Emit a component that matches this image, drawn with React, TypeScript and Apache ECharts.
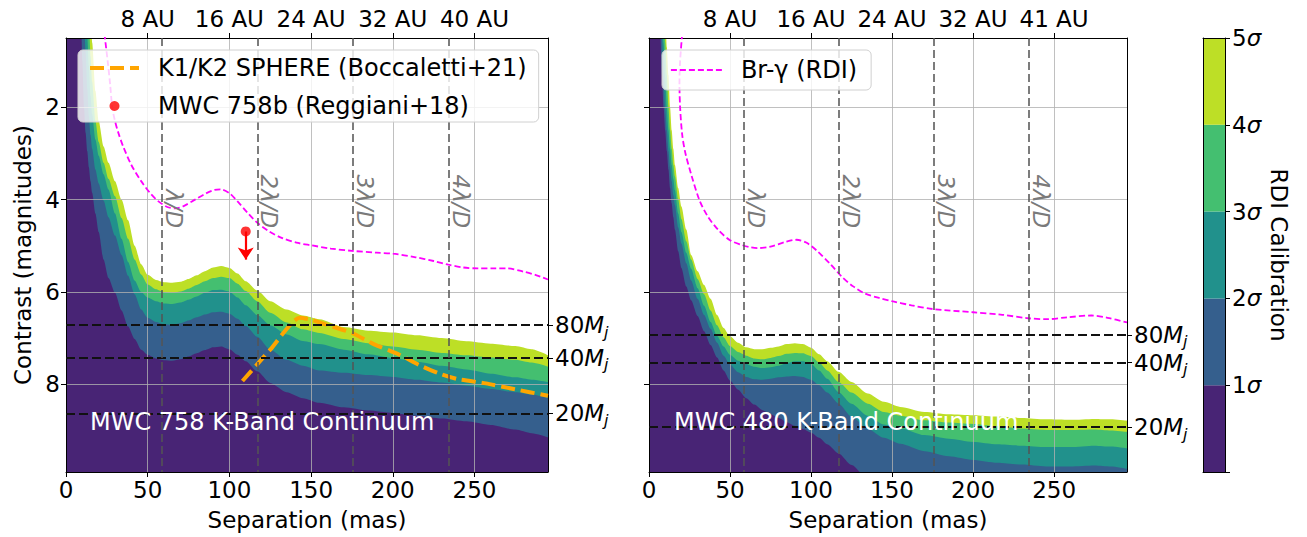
import React, { useEffect, useRef } from 'react';
import * as echarts from 'echarts';

const FONT = 'DejaVu Sans';

// Separation grid (mas) shared by all contour boundaries
const SEP = [0, 5, 7, 8, 9, 10, 11, 12, 13, 14, 15, 16, 18, 20, 23, 26, 30, 34, 38, 42, 46, 50, 55, 60, 65, 70, 75, 80, 85, 90, 95, 100, 105, 110, 117, 125, 135, 145, 155, 170, 185, 200, 215, 230, 245, 260, 275, 285, 295];

// MWC 758 contour boundaries (contrast, mag) for 1..5 sigma
const MWC758_1S = [-4, -4, -4, -1.5, -0.2, 1.0, 2.0, 2.55, 2.95, 3.3, 3.6, 3.85, 4.3, 4.7, 5.3, 5.7, 6.02, 6.4, 6.75, 7.02, 7.25, 7.36, 7.44, 7.48, 7.49, 7.46, 7.4, 7.33, 7.26, 7.2, 7.18, 7.24, 7.36, 7.5, 7.72, 7.97, 8.17, 8.3, 8.4, 8.5, 8.57, 8.62, 8.68, 8.74, 8.8, 8.88, 8.98, 9.06, 9.15];
const MWC758_2S = [-4, -4, -4, -4, -3, -0.8, 0.1, 0.8, 1.6, 2.2, 2.6, 2.9, 3.35, 3.65, 4.02, 4.38, 4.78, 5.2, 5.65, 6.05, 6.38, 6.56, 6.65, 6.7, 6.71, 6.68, 6.62, 6.55, 6.49, 6.44, 6.43, 6.47, 6.58, 6.74, 6.97, 7.25, 7.47, 7.6, 7.7, 7.75, 7.8, 7.84, 7.9, 7.96, 8.03, 8.1, 8.17, 8.22, 8.3];
const MWC758_3S = [-4, -4, -4, -4, -4, -4, -3, -0.3, 0.45, 1.1, 1.75, 2.15, 2.7, 3.05, 3.45, 3.78, 4.3, 4.85, 5.35, 5.75, 6.0, 6.12, 6.2, 6.25, 6.26, 6.23, 6.17, 6.1, 6.02, 5.96, 5.95, 5.99, 6.12, 6.29, 6.5, 6.72, 6.92, 7.06, 7.13, 7.25, 7.35, 7.43, 7.51, 7.6, 7.68, 7.77, 7.85, 7.9, 7.95];
const MWC758_4S = [-4, -4, -4, -4, -4, -4, -4, -4, -1.2, 0.1, 0.9, 1.45, 2.3, 2.75, 3.2, 3.55, 3.93, 4.4, 4.85, 5.3, 5.62, 5.84, 5.94, 6.0, 6.02, 5.99, 5.93, 5.85, 5.77, 5.7, 5.67, 5.7, 5.82, 5.98, 6.2, 6.45, 6.66, 6.81, 6.89, 7.02, 7.11, 7.18, 7.25, 7.32, 7.37, 7.42, 7.47, 7.53, 7.62];
const MWC758_5S = [-4, -4, -4, -4, -4, -4, -4, -4, -4, -1.2, -0.2, 0.6, 1.65, 2.3, 2.85, 3.2, 3.6, 4.0, 4.45, 5.0, 5.4, 5.63, 5.74, 5.79, 5.8, 5.78, 5.72, 5.64, 5.55, 5.47, 5.44, 5.48, 5.6, 5.77, 5.97, 6.2, 6.38, 6.51, 6.59, 6.76, 6.84, 6.88, 6.94, 7.0, 7.07, 7.12, 7.17, 7.24, 7.37];

// MWC 480 contour boundaries
const MWC480_1S = [-4, -4, 0.45, 1.3, 2.0, 2.5, 2.95, 3.35, 3.75, 4.08, 4.38, 4.65, 5.12, 5.48, 5.88, 6.18, 6.52, 6.85, 7.15, 7.42, 7.7, 7.92, 8.12, 8.3, 8.44, 8.56, 8.65, 8.73, 8.82, 8.9, 8.97, 9.05, 9.16, 9.3, 9.5, 9.75, 10.05, 10.35, 10.6, 10.9, 11.1, 11.2, 11.3, 11.3, 11.3, 11.3, 11.3, 11.3, 11.3];
const MWC480_2S = [-4, -4, -0.5, 0.5, 1.4, 2.05, 2.5, 2.95, 3.3, 3.6, 3.9, 4.12, 4.6, 4.95, 5.38, 5.75, 6.15, 6.5, 6.8, 7.1, 7.38, 7.57, 7.74, 7.84, 7.89, 7.9, 7.88, 7.85, 7.83, 7.82, 7.84, 7.9, 8.02, 8.18, 8.42, 8.7, 8.97, 9.16, 9.29, 9.45, 9.56, 9.64, 9.7, 9.74, 9.78, 9.78, 9.76, 9.78, 9.83];
const MWC480_3S = [-4, -4, -2, -0.2, 0.6, 1.35, 2.0, 2.5, 2.9, 3.25, 3.55, 3.8, 4.3, 4.7, 5.15, 5.5, 5.92, 6.3, 6.65, 6.95, 7.18, 7.36, 7.49, 7.56, 7.62, 7.65, 7.63, 7.6, 7.54, 7.5, 7.5, 7.56, 7.7, 7.88, 8.17, 8.42, 8.68, 8.87, 8.95, 9.1, 9.18, 9.25, 9.3, 9.33, 9.36, 9.36, 9.33, 9.35, 9.39];
const MWC480_4S = [-4, -4, -4, -1.2, -0.2, 0.6, 1.3, 2.0, 2.5, 2.9, 3.25, 3.5, 4.0, 4.42, 4.9, 5.3, 5.72, 6.05, 6.4, 6.72, 6.98, 7.17, 7.3, 7.38, 7.44, 7.46, 7.43, 7.39, 7.34, 7.32, 7.33, 7.39, 7.53, 7.7, 7.95, 8.18, 8.42, 8.6, 8.68, 8.78, 8.83, 8.86, 8.91, 8.96, 8.99, 8.99, 8.98, 9.0, 9.03];
const MWC480_5S = [-4, -4, -4, -2, -0.8, 0.0, 0.7, 1.3, 2.0, 2.5, 2.9, 3.25, 3.75, 4.15, 4.65, 5.2, 5.55, 5.85, 6.15, 6.5, 6.78, 6.96, 7.1, 7.2, 7.24, 7.24, 7.21, 7.18, 7.13, 7.11, 7.13, 7.21, 7.35, 7.5, 7.73, 7.95, 8.2, 8.38, 8.49, 8.6, 8.65, 8.67, 8.7, 8.73, 8.76, 8.77, 8.75, 8.76, 8.79];

// Br-gamma RDI curves
const BRG758_SEP = [23.5, 25.5, 27, 28.3, 30, 32, 35, 40, 46, 52, 57, 62, 67, 72, 79, 86, 91, 95, 100, 105, 111, 117, 124, 132, 142, 150, 162, 175, 190, 200, 214, 225, 234, 243, 252, 262, 270, 280, 288, 295];
const BRG758_MAG = [0.4, 1.0, 1.5, 2.0, 2.3, 2.55, 2.85, 3.25, 3.6, 3.88, 4.05, 4.16, 4.19, 4.14, 4.0, 3.86, 3.79, 3.78, 3.86, 4.04, 4.28, 4.5, 4.68, 4.83, 4.94, 4.99, 5.06, 5.11, 5.15, 5.17, 5.25, 5.33, 5.41, 5.47, 5.49, 5.49, 5.49, 5.56, 5.64, 5.73];
const BRG480_SEP = [20.5, 19.2, 18.8, 19.2, 20.5, 22.5, 26, 31, 36, 42.8, 50, 57, 62, 67, 75, 84, 91, 97, 104, 112, 119, 126, 133, 142, 150, 162, 175, 200, 217, 234, 246, 258, 273, 283, 295];
const BRG480_MAG = [0.4, 1.0, 1.5, 2.0, 2.6, 3.0, 3.45, 4.0, 4.35, 4.66, 4.88, 4.98, 5.03, 5.05, 5.02, 4.92, 4.87, 4.93, 5.12, 5.4, 5.67, 5.88, 6.03, 6.13, 6.2, 6.29, 6.37, 6.44, 6.49, 6.57, 6.59, 6.55, 6.51, 6.56, 6.66];

// SPHERE K1/K2 curve (Boccaletti+21)
const SPHERE_SEP = [108, 125, 143, 150, 163, 175, 189, 204, 216, 228, 240, 257, 275, 295];
const SPHERE_MAG = [7.93, 7.25, 6.56, 6.6, 6.75, 6.89, 7.14, 7.36, 7.58, 7.76, 7.89, 7.98, 8.11, 8.25];

// MWC 758b (Reggiani+18): point and upper-limit arrow end
const MWC758B = [110, 4.69];
const MWC758B_LIMIT = 5.3;

// Mass limits
const MASS_LABELS = ['80', '40', '20'];
const MWC758_MASS = [6.72, 7.43, 8.63];
const MWC480_MASS = [6.93, 7.53, 8.93];

// lambda/D positions
const LAMBDA_D = [58.6, 117.2, 175.8, 234.4];
const LAMBDA_LABELS = ['λ/D', '2λ/D', '3λ/D', '4λ/D'];
const LAMBDA_LABEL_MAG = 4.62;

// Axes ticks
const X_TICKS = [0, 50, 100, 150, 200, 250];
const Y_TICKS = [2, 4, 6, 8];
const AU_TICKS = [50, 100, 150, 200, 250];
const AU_758 = ['8 AU', '16 AU', '24 AU', '32 AU', '40 AU'];
const AU_480 = ['8 AU', '16 AU', '24 AU', '32 AU', '41 AU'];

// Colorbar
const SIGMA_LEVELS = [0, 1, 2, 3, 4, 5];
const VIRIDIS = ['#482475', '#355f8d', '#21918c', '#44bf70', '#bddf26'];

const X_MIN = 0, X_MAX = 295, Y_MIN = 0.5, Y_MAX = 9.9;

const pairs = (xs: number[], ys: number[]) => xs.map((x, i) => [x, ys[i]]);

const txt = { fontFamily: FONT, fontSize: 23, color: '#000' };
const axisLineBlack = { show: true, onZero: false, lineStyle: { color: '#000', width: 1 } };
const tick = (vals: number[] | null) => ({ show: true, length: 5, inside: false, lineStyle: { color: '#000', width: 1 }, ...(vals ? { customValues: vals } : {}) });
const gridLine = { show: true, lineStyle: { color: 'rgba(176,176,176,0.8)', width: 1 } };
const noSymbol = { color: 'rgba(0,0,0,0)', borderColor: 'rgba(0,0,0,0)', borderWidth: 0, opacity: 0 };

const SPHERE_STYLE = { color: '#ffa500', width: 4, type: [14, 6] };
const BRG_STYLE = { color: '#ff00ff', width: 1.8, type: [6, 3] };

function contourSeries(curves: number[][], xi: number, yi: number) {
  const out: any[] = [];
  for (let k = curves.length - 1; k >= 0; k--) {
    out.push({
      type: 'line', xAxisIndex: xi, yAxisIndex: yi, data: pairs(SEP, curves[k]),
      symbol: 'none', smooth: 0.25, smoothMonotone: 'x', silent: true, z: 1, clip: true,
      lineStyle: { width: 0 }, areaStyle: { color: VIRIDIS[k], opacity: 1, origin: 'end' },
    });
  }
  return out;
}

const massRich = {
  n: { fontFamily: FONT, fontSize: 23, color: '#000', lineHeight: 30 },
  m: { fontFamily: FONT, fontSize: 23, color: '#000', fontStyle: 'italic', lineHeight: 30 },
  j: { fontFamily: FONT, fontSize: 16, color: '#000', fontStyle: 'italic', lineHeight: 30, verticalAlign: 'bottom' },
};
const massFmt = (masses: number[]) => (v: number) => {
  const i = masses.findIndex((m) => Math.abs(m - v) < 1e-6);
  return i < 0 ? '' : `{n|${MASS_LABELS[i]}}{m|M}{j|j}`;
};

function markLines(masses: number[]) {
  return {
    silent: true, symbol: ['none', 'none'], label: { show: false },
    data: [
      ...masses.map((m) => ({ yAxis: m, lineStyle: { color: '#111', width: 2, type: [9, 4] } })),
      ...LAMBDA_D.map((l) => ({ xAxis: l, lineStyle: { color: 'rgba(85,85,85,0.85)', width: 1.8, type: [8, 4] } })),
    ],
  };
}

function panelAxes(gridIndex: number, au: string[], showY: boolean, masses: number[]) {
  const xBottom = {
    type: 'value', gridIndex, position: 'bottom', min: X_MIN, max: X_MAX, z: 2,
    axisLine: axisLineBlack, axisTick: tick(X_TICKS), splitLine: gridLine,
    axisLabel: { ...txt, margin: 6, customValues: X_TICKS, formatter: (v: number) => String(v) },
    name: 'Separation (mas)', nameLocation: 'middle', nameGap: 36, nameTextStyle: txt,
  };
  const xTop = {
    type: 'value', gridIndex, position: 'top', min: X_MIN, max: X_MAX, z: 2,
    axisLine: axisLineBlack, axisTick: tick(AU_TICKS), splitLine: { show: false },
    axisLabel: { ...txt, margin: 8, customValues: AU_TICKS, formatter: (v: number) => au[AU_TICKS.indexOf(v)] ?? '' },
  };
  const yLeft: any = {
    type: 'value', gridIndex, position: 'left', min: Y_MIN, max: Y_MAX, inverse: true, z: 2,
    axisLine: axisLineBlack, axisTick: tick(Y_TICKS), splitLine: gridLine,
    axisLabel: { ...txt, show: showY, margin: 6, customValues: Y_TICKS, formatter: (v: number) => String(v) },
  };
  if (showY) {
    Object.assign(yLeft, { name: 'Contrast (magnitudes)', nameLocation: 'middle', nameGap: 32, nameRotate: 90, nameTextStyle: txt });
  }
  const yRight = {
    type: 'value', gridIndex, position: 'right', min: Y_MIN, max: Y_MAX, inverse: true, z: 2,
    axisLine: axisLineBlack, axisTick: tick(masses), splitLine: { show: false },
    axisLabel: { ...txt, margin: 7, customValues: masses, formatter: massFmt(masses), rich: massRich },
  };
  return { x: [xBottom, xTop], y: [yLeft, yRight] };
}

const left = panelAxes(0, AU_758, true, MWC758_MASS);
const right = panelAxes(1, AU_480, false, MWC480_MASS);

const legendBox = {
  orient: 'vertical', selectedMode: false, z: 6,
  backgroundColor: 'rgba(255,255,255,0.8)', borderColor: '#d0d0d0', borderWidth: 1, borderRadius: 5,
  textStyle: { fontFamily: FONT, fontSize: 24, color: '#000', lineHeight: 28, padding: [0, 0, 0, 14] },
};

const option: any = {
  animation: false,
  backgroundColor: '#fff',
  textStyle: { fontFamily: FONT },
  grid: [
    { left: 66, top: 38, width: 482, height: 434 },
    { left: 649, top: 38, width: 478, height: 434 },
    { left: 1203, top: 38, width: 22, height: 434 },
  ],
  xAxis: [
    ...left.x, ...right.x,
    { type: 'category', gridIndex: 2, position: 'bottom', data: ['σ'], z: 2, axisLine: axisLineBlack, axisTick: { show: false }, axisLabel: { show: false }, splitLine: { show: false } },
    { type: 'category', gridIndex: 2, position: 'top', data: ['σ'], z: 2, axisLine: axisLineBlack, axisTick: { show: false }, axisLabel: { show: false }, splitLine: { show: false } },
  ],
  yAxis: [
    ...left.y, ...right.y,
    {
      type: 'value', gridIndex: 2, position: 'right', min: 0, max: 5, interval: 1, z: 2,
      axisLine: axisLineBlack, axisTick: tick(null), splitLine: { show: false },
      axisLabel: {
        ...txt, margin: 7,
        formatter: (v: number) => (v === 0 ? '' : `{n|${v}}{s|σ}`),
        rich: {
          n: { fontFamily: FONT, fontSize: 23, color: '#000' },
          s: { fontFamily: FONT, fontSize: 23, color: '#000', fontStyle: 'italic' },
        },
      },
      name: 'RDI Calibration', nameLocation: 'middle', nameGap: 42, nameRotate: -90, nameTextStyle: txt,
    },
    { type: 'value', gridIndex: 2, position: 'left', min: 0, max: 5, z: 2, axisLine: axisLineBlack, axisTick: { show: false }, axisLabel: { show: false }, splitLine: { show: false } },
  ],
  legend: [
    {
      ...legendBox,
      data: [
        { name: 'K1/K2 SPHERE (Boccaletti+21)', itemStyle: noSymbol, lineStyle: SPHERE_STYLE },
        { name: 'MWC 758b (Reggiani+18)', icon: 'circle' },
      ],
      left: 78, top: 50, itemWidth: 49, itemHeight: 10, itemGap: 10, padding: [4, 12, 2, 10],
    },
    {
      ...legendBox,
      data: [{ name: 'Br-γ (RDI)', itemStyle: noSymbol, lineStyle: BRG_STYLE }],
      left: 662, top: 50, itemWidth: 51, itemHeight: 10, padding: [6, 14, 6, 8],
    },
  ],
  title: [
    { text: 'MWC 758 K-Band Continuum', left: 90, top: 408, padding: 0, textStyle: { color: '#fff', fontSize: 24, fontWeight: 'normal', fontFamily: FONT, lineHeight: 28 } },
    { text: 'MWC 480 K-Band Continuum', left: 674, top: 408, padding: 0, textStyle: { color: '#fff', fontSize: 24, fontWeight: 'normal', fontFamily: FONT, lineHeight: 28 } },
  ],
  series: [
    ...contourSeries([MWC758_1S, MWC758_2S, MWC758_3S, MWC758_4S, MWC758_5S], 0, 0),
    ...contourSeries([MWC480_1S, MWC480_2S, MWC480_3S, MWC480_4S, MWC480_5S], 2, 2),
    {
      name: 'Br-γ (RDI)', type: 'line', xAxisIndex: 0, yAxisIndex: 0, data: pairs(BRG758_SEP, BRG758_MAG),
      symbol: 'none', smooth: 0.3, z: 3, silent: true,
      lineStyle: BRG_STYLE,
      markLine: markLines(MWC758_MASS),
    },
    {
      name: 'K1/K2 SPHERE (Boccaletti+21)', type: 'line', xAxisIndex: 0, yAxisIndex: 0, data: pairs(SPHERE_SEP, SPHERE_MAG),
      symbol: 'none', smooth: 0.2, z: 4, silent: true,
      lineStyle: SPHERE_STYLE,
    },
    {
      name: 'MWC 758b (Reggiani+18)', type: 'scatter', xAxisIndex: 0, yAxisIndex: 0, data: [MWC758B],
      symbolSize: 10, itemStyle: { color: '#ff0000' }, z: 5, silent: true,
      markLine: {
        silent: true, symbol: ['none', 'arrow'], symbolSize: [12, 12], label: { show: false },
        lineStyle: { color: '#ff0000', width: 2.2, type: 'solid' },
        data: [[{ coord: MWC758B }, { coord: [MWC758B[0], MWC758B_LIMIT] }]],
      },
    },
    {
      name: 'Br-γ (RDI)', type: 'line', xAxisIndex: 2, yAxisIndex: 2, data: pairs(BRG480_SEP, BRG480_MAG),
      symbol: 'none', smooth: 0.3, z: 3, silent: true,
      lineStyle: BRG_STYLE,
      markLine: markLines(MWC480_MASS),
    },
    ...VIRIDIS.map((c, i) => ({
      type: 'bar', xAxisIndex: 4, yAxisIndex: 4, stack: 'colorbar', barWidth: '100%', silent: true,
      data: [SIGMA_LEVELS[i + 1] - SIGMA_LEVELS[i]], itemStyle: { color: c }, z: 1,
    })),
  ],
};

export default function App() {
  const ref = useRef<HTMLDivElement>(null);
  useEffect(() => {
    const chart = echarts.init(ref.current as HTMLDivElement, null, { renderer: 'svg' });
    chart.setOption(option);
    const g: any[] = [];
    [0, 5].forEach((si) => {
      LAMBDA_D.forEach((lam, i) => {
        const p = chart.convertToPixel({ seriesIndex: si }, [lam, LAMBDA_LABEL_MAG]) as number[];
        g.push({
          type: 'text', x: p[0] + 12, y: p[1], rotation: -Math.PI / 2, z: 10, silent: true,
          style: { text: LAMBDA_LABELS[i], fontSize: 23, fontFamily: FONT, fontStyle: 'italic', fill: '#7a7a7a', align: 'right', verticalAlign: 'middle' },
        });
      });
    });
    chart.setOption({ graphic: g });
    return () => chart.dispose();
  }, []);
  return <div ref={ref} style={{ position: 'fixed', left: 0, top: 0, width: 1307, height: 537, background: '#fff' }} />;
}
